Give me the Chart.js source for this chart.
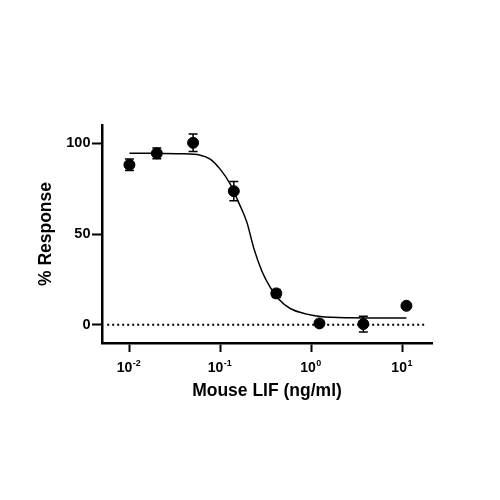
<!DOCTYPE html>
<html>
<head>
<meta charset="utf-8">
<script src="https://cdn.jsdelivr.net/npm/chart.js@4.4.0/dist/chart.umd.min.js"></script>
<style>
	html, body { margin: 0; padding: 0; background: #fff; }
	#wrap { width: 500px; height: 500px; }
</style>
</head>
<body>
<div id="wrap"><canvas id="chart" width="500" height="500"></canvas></div>
<script>
// measured points (mean +/- error)
const doses = [0.01, 0.02, 0.05, 0.14, 0.41, 1.22, 3.7, 11];
const response = [88.1, 94.4, 100.2, 73.6, 17.3, 0.8, 0.4, 10.5];
const errors = [3.2, 3.0, 4.8, 5.3, 2.2, 0, 4.3, 0];

// fitted curve
const fitDoses = [0.01, 0.02, 0.036, 0.06, 0.077, 0.099, 0.128, 0.158, 0.195, 0.231, 0.285, 0.352, 0.434, 0.583, 0.889, 1.25, 2.66, 11];
const fitResponse = [94.5, 94.4, 94.2, 93.4, 91.2, 85.7, 77.5, 67.4, 56.4, 42.5, 29.5, 20.6, 14.2, 9.0, 5.9, 4.6, 3.9, 3.7];

// dotted zero line
const zeroDoses = [0.0057, 17.8];
const zeroLevel = [0, 0];

const xTicks = [0.01, 0.1, 1, 10];
const xTickPowers = ['-2', '-1', '0', '1'];
const yTicks = [0, 50, 100];

const FONT = '"Liberation Sans", Arial, sans-serif';

const errorBars = {
	id: 'errorBars',
	afterDatasetsDraw(chart) {
		const ctx = chart.ctx;
		const x = chart.scales.x, y = chart.scales.y;
		ctx.save();
		ctx.strokeStyle = '#000';
		ctx.lineWidth = 1.5;
		doses.forEach((d, i) => {
			if (!errors[i]) return;
			const px = x.getPixelForValue(d);
			const top = y.getPixelForValue(response[i] + errors[i]);
			const bot = y.getPixelForValue(response[i] - errors[i]);
			ctx.beginPath();
			ctx.moveTo(px, top); ctx.lineTo(px, bot);
			ctx.moveTo(px - 4.5, top); ctx.lineTo(px + 4.5, top);
			ctx.moveTo(px - 4.5, bot); ctx.lineTo(px + 4.5, bot);
			ctx.stroke();
		});
		ctx.restore();
	}
};

// x tick labels as 10 with a raised exponent
const powerLabels = {
	id: 'powerLabels',
	afterDraw(chart) {
		const ctx = chart.ctx;
		const x = chart.scales.x;
		ctx.save();
		ctx.fillStyle = '#000';
		ctx.textBaseline = 'alphabetic';
		xTicks.forEach((v, i) => {
			const px = x.getPixelForValue(v);
			ctx.font = 'bold 14px ' + FONT;
			const wBase = ctx.measureText('10').width;
			ctx.font = 'bold 9px ' + FONT;
			const wExp = ctx.measureText(xTickPowers[i]).width;
			const left = px - 1 - (wBase + wExp) / 2;
			ctx.font = 'bold 14px ' + FONT;
			ctx.fillText('10', left, 372);
			ctx.font = 'bold 9px ' + FONT;
			ctx.fillText(xTickPowers[i], left + wBase + 0.5, 366);
		});
		ctx.restore();
	}
};

const chart = new Chart(document.getElementById('chart'), {
	type: 'scatter',
	data: {
		datasets: [{
			label: 'Response',
			data: doses.map((d, i) => ({ x: d, y: response[i] })),
			backgroundColor: '#000',
			borderColor: '#000',
			pointRadius: 5.5,
			pointHoverRadius: 5.5,
			showLine: false,
		}, {
			label: 'Fit',
			data: fitDoses.map((d, i) => ({ x: d, y: fitResponse[i] })),
			borderColor: '#000',
			borderWidth: 1.5,
			pointRadius: 0,
			showLine: true,
			cubicInterpolationMode: 'monotone',
		}, {
			label: 'Zero',
			data: zeroDoses.map((d, i) => ({ x: d, y: zeroLevel[i] })),
			borderColor: '#000',
			borderWidth: 2,
			borderDash: [2, 3],
			pointRadius: 0,
			showLine: true,
		}]
	},
	options: {
		responsive: false,
		animation: false,
		devicePixelRatio: 1,
		layout: { padding: { top: 125, right: 68, bottom: 0, left: 0 } },
		plugins: {
			legend: { display: false },
			tooltip: { enabled: false },
		},
		scales: {
			x: {
				type: 'logarithmic',
				min: 0.005,
				max: 21,
				afterBuildTicks: (s) => { s.ticks = xTicks.map(v => ({ value: v })); },
				afterFit: (s) => { s.height = 157; },
				border: { display: true, color: '#000', width: 2.5 },
				grid: { drawOnChartArea: false, drawTicks: true, tickLength: 9, tickWidth: 2, tickColor: '#000' },
				ticks: { display: false },
				title: {
					display: true,
					text: 'Mouse LIF (ng/ml)',
					color: '#000',
					font: { family: FONT, size: 17.5, weight: 'bold' },
					padding: { top: 0, bottom: 98 },
				},
			},
			y: {
				min: -10,
				max: 110,
				afterBuildTicks: (s) => { s.ticks = yTicks.map(v => ({ value: v })); },
				afterFit: (s) => { s.width = 102; },
				border: { display: true, color: '#000', width: 2.5 },
				grid: { drawOnChartArea: false, drawTicks: true, tickLength: 10, tickWidth: 2, tickColor: '#000' },
				ticks: {
					color: '#000',
					padding: 1.5,
					font: { family: FONT, size: 14.5, weight: 'bold' },
				},
				title: {
					display: true,
					text: '% Response',
					color: '#000',
					font: { family: FONT, size: 17.5, weight: 'bold' },
					padding: { top: 36, bottom: 0 },
				},
			},
		},
	},
	plugins: [errorBars, powerLabels],
});
</script>
</body>
</html>
